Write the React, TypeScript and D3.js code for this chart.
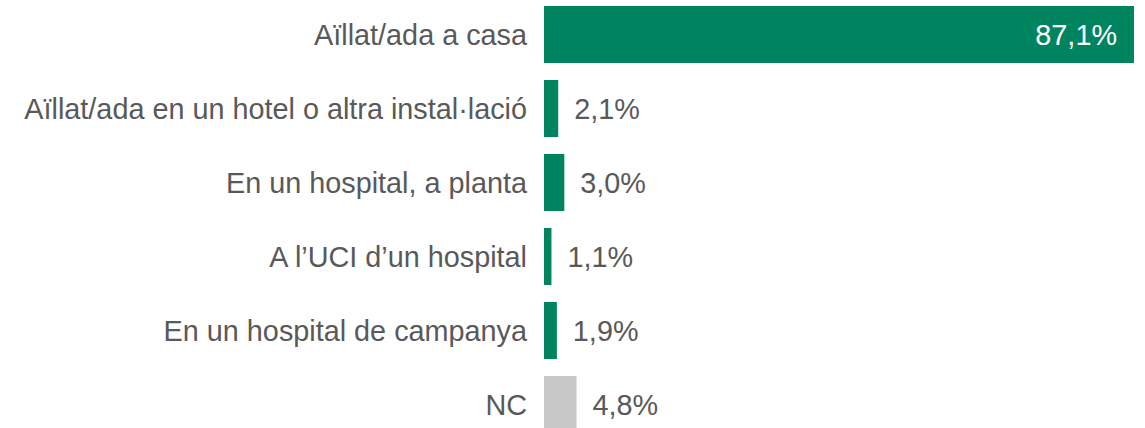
import React from "react";
import * as d3 from "d3";

const categories = [
  "Aïllat/ada a casa",
  "Aïllat/ada en un hotel o altra instal·lació",
  "En un hospital, a planta",
  "A l’UCI d’un hospital",
  "En un hospital de campanya",
  "NC",
];
const values = [87.1, 2.1, 3.0, 1.1, 1.9, 4.8];
const colors = ["#00845F", "#00845F", "#00845F", "#00845F", "#00845F", "#C8C8C8"];

const W = 1145;
const H = 428;

export default function App() {
  const x = d3.scaleLinear().domain([0, 87.1]).range([544, 1134]);
  const y = d3
    .scaleBand<number>()
    .domain(d3.range(categories.length))
    .range([-2.5, 441.5])
    .paddingInner(0.23)
    .paddingOuter(0.115);
  const fmt = (v: number) => v.toFixed(1).replace(".", ",") + "%";
  const font = "'Liberation Sans', Arial, sans-serif";
  const fs = 28.8;
  return (
    <svg
      width={W}
      height={H}
      style={{ position: "absolute", left: 0, top: 0, background: "#fff" }}
    >
      {values.map((v, i) => {
        const yc = (y(i) as number) + y.bandwidth() / 2;
        const inside = v > 50;
        return (
          <g key={i}>
            <rect
              x={x(0)}
              y={y(i)}
              width={x(v) - x(0)}
              height={y.bandwidth()}
              fill={colors[i]}
            />
            <text
              x={527}
              y={yc}
              dy="0.38em"
              textAnchor="end"
              fontFamily={font}
              fontSize={fs}
              fill="#595959"
            >
              {categories[i]}
            </text>
            <text
              x={inside ? x(v) - 17 : x(v) + 16}
              y={yc}
              dy="0.38em"
              textAnchor={inside ? "end" : "start"}
              fontFamily={font}
              fontSize={fs}
              fill={inside ? "#ffffff" : "#595959"}
            >
              {fmt(v)}
            </text>
          </g>
        );
      })}
    </svg>
  );
}
